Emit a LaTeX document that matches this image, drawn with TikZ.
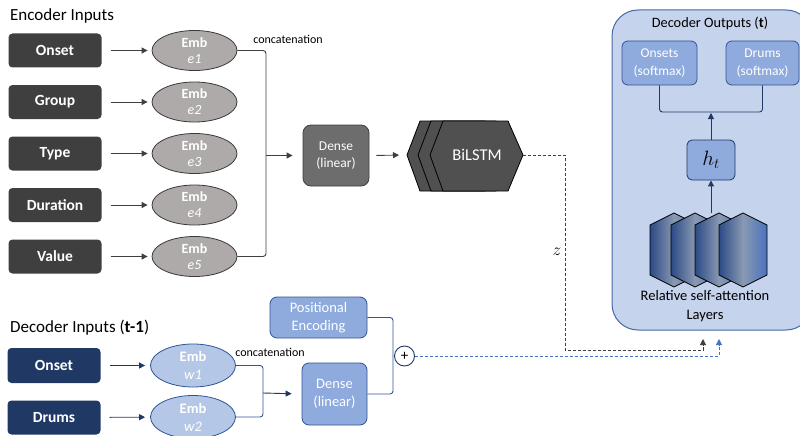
\documentclass[tikz,border=0pt]{standalone}
\usepackage{fontspec}
\setmainfont{Carlito}
\usetikzlibrary{arrows.meta,shapes.geometric,calc}
\definecolor{encdark}{HTML}{3F3F3F}
\definecolor{embfill}{HTML}{AEAAAA}
\definecolor{embdraw}{HTML}{3B3838}
\definecolor{densefill}{HTML}{6D6D6D}
\definecolor{bilfill}{HTML}{505050}
\definecolor{navy}{HTML}{1F3864}
\definecolor{embblue}{HTML}{B4C7E7}
\definecolor{blueedge}{HTML}{2F5597}
\definecolor{midblue}{HTML}{8FAADC}
\definecolor{bigbox}{HTML}{C6D3EC}
\definecolor{bigedge}{HTML}{4469A8}
\definecolor{dashblue}{HTML}{4472C4}
\definecolor{layL}{HTML}{2B4A86}
\definecolor{layM}{HTML}{8A99B2}
\definecolor{layR}{HTML}{4A72BD}
\begin{document}
\begin{tikzpicture}[x=1pt,y=-1pt,
  inbox/.style={rounded corners=4pt, fill=encdark, text=white, font=\bfseries\fontsize{15.5}{18}\selectfont, minimum width=93pt, minimum height=34pt, inner sep=0pt},
  navybox/.style={inbox, fill=navy},
  embE/.style={ellipse, draw=embdraw, fill=embfill, line width=0.8pt, minimum width=85pt, minimum height=40pt, inner sep=0pt, text=white, align=center, font=\fontsize{14}{16}\selectfont},
  embW/.style={embE, draw=blueedge, fill=embblue, minimum height=43pt, font=\fontsize{14.5}{18}\selectfont},
  densebox/.style={rounded corners=8pt, draw=encdark, fill=densefill, line width=0.8pt, text=white, align=center, font=\fontsize{13.5}{17}\selectfont, minimum width=66pt, minimum height=61pt, inner sep=0pt},
  bluebox/.style={rounded corners=7pt, draw=blueedge, fill=midblue, line width=0.8pt, text=white, align=center, font=\fontsize{14.5}{18}\selectfont, inner sep=0pt},
  arr/.style={draw=encdark, line width=0.9pt, -{Triangle[length=6pt,width=6pt]}},
  darr/.style={draw=navy, line width=0.9pt, -{Triangle[length=6pt,width=6pt]}},
  encline/.style={draw=encdark, line width=0.9pt, rounded corners=3pt},
  decline/.style={draw=blueedge, line width=0.9pt, rounded corners=3pt},
  lbl/.style={font=\fontsize{12}{14}\selectfont, text=black},
  title/.style={font=\fontsize{17}{20}\selectfont, text=black, anchor=west, inner sep=0pt},
]
\useasboundingbox (0,0) rectangle (800,436);

% ---------------- Encoder ----------------
\node[title] (enct) at (10,16) {Encoder Inputs};
\foreach \n/\t/\y in {1/Onset/50.5,2/Group/102,3/Type/153.5,4/Duration/205,5/Value/256.5}{
  \node[inbox] (in\n) at (55,\y) {\t};
  \node[embE] (e\n) at (194.5,\y) {{\bfseries Emb}\\{\itshape e\n}};
  \draw[arr, shorten <=9pt, shorten >=4pt] (in\n) -- (e\n);
}
\node[lbl] (cat1) at (288,39) {concatenation};
\coordinate (bk1) at (266,155.5);
\draw[encline] (e1.east) -| (bk1);
\draw[encline] (e5.east) -| (bk1);
\node[densebox] (d1) at (336,155.5) {Dense\\(linear)};
\draw[arr, shorten >=10pt] (bk1) -- (d1.west);

% BiLSTM stacked hexagons
\foreach \o in {-23,-12,0}{
  \draw[fill=bilfill, line width=0.8pt, line join=miter]
    (430+\o,155) -- (443+\o,121) -- (508+\o,121) -- (523+\o,155) -- (508+\o,191) -- (443+\o,191) -- cycle;
}
\node[text=white, font=\fontsize{16.5}{18}\selectfont] (bil) at (477,155) {BiLSTM};
\coordinate (bilL) at (407,155);
\coordinate (bilR) at (523,155);
\draw[arr, shorten <=7pt, shorten >=8pt] (d1.east) -- (bilL);

% ---------------- Decoder outputs ----------------
\node[draw=bigedge, fill=bigbox, line width=1pt, rounded corners=26pt, minimum width=200pt, minimum height=320pt, inner sep=0pt] (outbox) at (712,170) {};
\node[font=\fontsize{14.3}{16}\selectfont] (outt) at (710,23) {Decoder Outputs (\textbf{t})};
\node[bluebox, minimum width=75pt, minimum height=44pt, rounded corners=6pt, font=\fontsize{13.5}{18}\selectfont] (ons) at (659.5,63) {Onsets\\(softmax)};
\node[bluebox, minimum width=73pt, minimum height=44pt, rounded corners=6pt, font=\fontsize{13.5}{18}\selectfont] (drm) at (762.5,63) {Drums\\(softmax)};
\coordinate (jn) at (711,112);
\draw[decline, draw=navy] (ons.south) |- (jn) -| (drm.south);
\node[bluebox, draw=navy, minimum width=48pt, minimum height=40pt, rounded corners=5pt, text=black, font=\fontsize{20}{22}\selectfont] (ht) at (711,160) {$h_t$};
\draw[darr, shorten >=1pt] (ht.north) -- (jn);

% attention layers
\foreach \cx in {674,695,719,743}{
  \shade[left color=layL, right color=layR, middle color=layM, draw=black, line width=0.8pt]
    (\cx,213) -- (\cx+24,225) -- (\cx+24,275) -- (\cx,287) -- (\cx-24,275) -- (\cx-24,225) -- cycle;
}
\coordinate (layTop) at (711,213);
\draw[darr] (layTop) -- (ht.south);
\node[font=\fontsize{14.5}{19}\selectfont, align=center] (laylbl) at (705,306) {Relative self-attention\\Layers};

% ---------------- Decoder inputs ----------------
\node[title] (dect) at (10,328) {Decoder Inputs (\textbf{t-1})};
\node[navybox, minimum height=35pt] (don) at (54,365.5) {Onset};
\node[navybox] (ddr) at (54,417.5) {Drums};
\node[embW] (w1) at (193,365.5) {{\bfseries Emb}\\{\itshape w1}};
\node[embW] (w2) at (193,417) {{\bfseries Emb}\\{\itshape w2}};
\draw[darr, shorten <=9pt, shorten >=5pt] (don) -- (w1);
\draw[darr, shorten <=9pt, shorten >=5pt] (ddr) -- (w2);
\node[lbl] (cat2) at (270,352) {concatenation};
\coordinate (bk2) at (263,393);
\draw[decline] (w1.east) -| (bk2);
\draw[decline] (w2.east) -| (bk2);
\node[bluebox, minimum width=65pt, minimum height=62pt] (d2) at (334.5,394) {Dense\\(linear)};
\draw[darr, shorten >=10pt] (bk2) -- (d2.west);
\node[bluebox, minimum width=97pt, minimum height=41pt] (pe) at (318.5,317.5) {Positional\\Encoding};
\coordinate (bk3) at (393,356);
\draw[decline] (pe.east) -| (bk3);
\draw[decline] (d2.east) -| (bk3);
\node[circle, draw=navy, fill=white, line width=0.9pt, minimum size=20pt, inner sep=0pt, font=\fontsize{15}{15}\selectfont] (plus) at (404.5,356) {+};

% ---------------- dashed connections ----------------
\coordinate (zin) at (703,339);
\coordinate (pin) at (719,339);
\draw[encline, rounded corners=0pt, dash pattern=on 3pt off 2pt, -{Triangle[length=6pt,width=6pt]}]
  (bilR) -- (565,155) -- (565,350) -- (703,350) -- (zin);
\node[font=\fontsize{17}{17}\selectfont] (zl) at (557,252) {$z$};
\draw[draw=dashblue, line width=0.9pt, dash pattern=on 3pt off 2pt, -{Triangle[length=6pt,width=6pt]}]
  (plus.east) -- (719,356) -- (pin);
\end{tikzpicture}
\end{document}
